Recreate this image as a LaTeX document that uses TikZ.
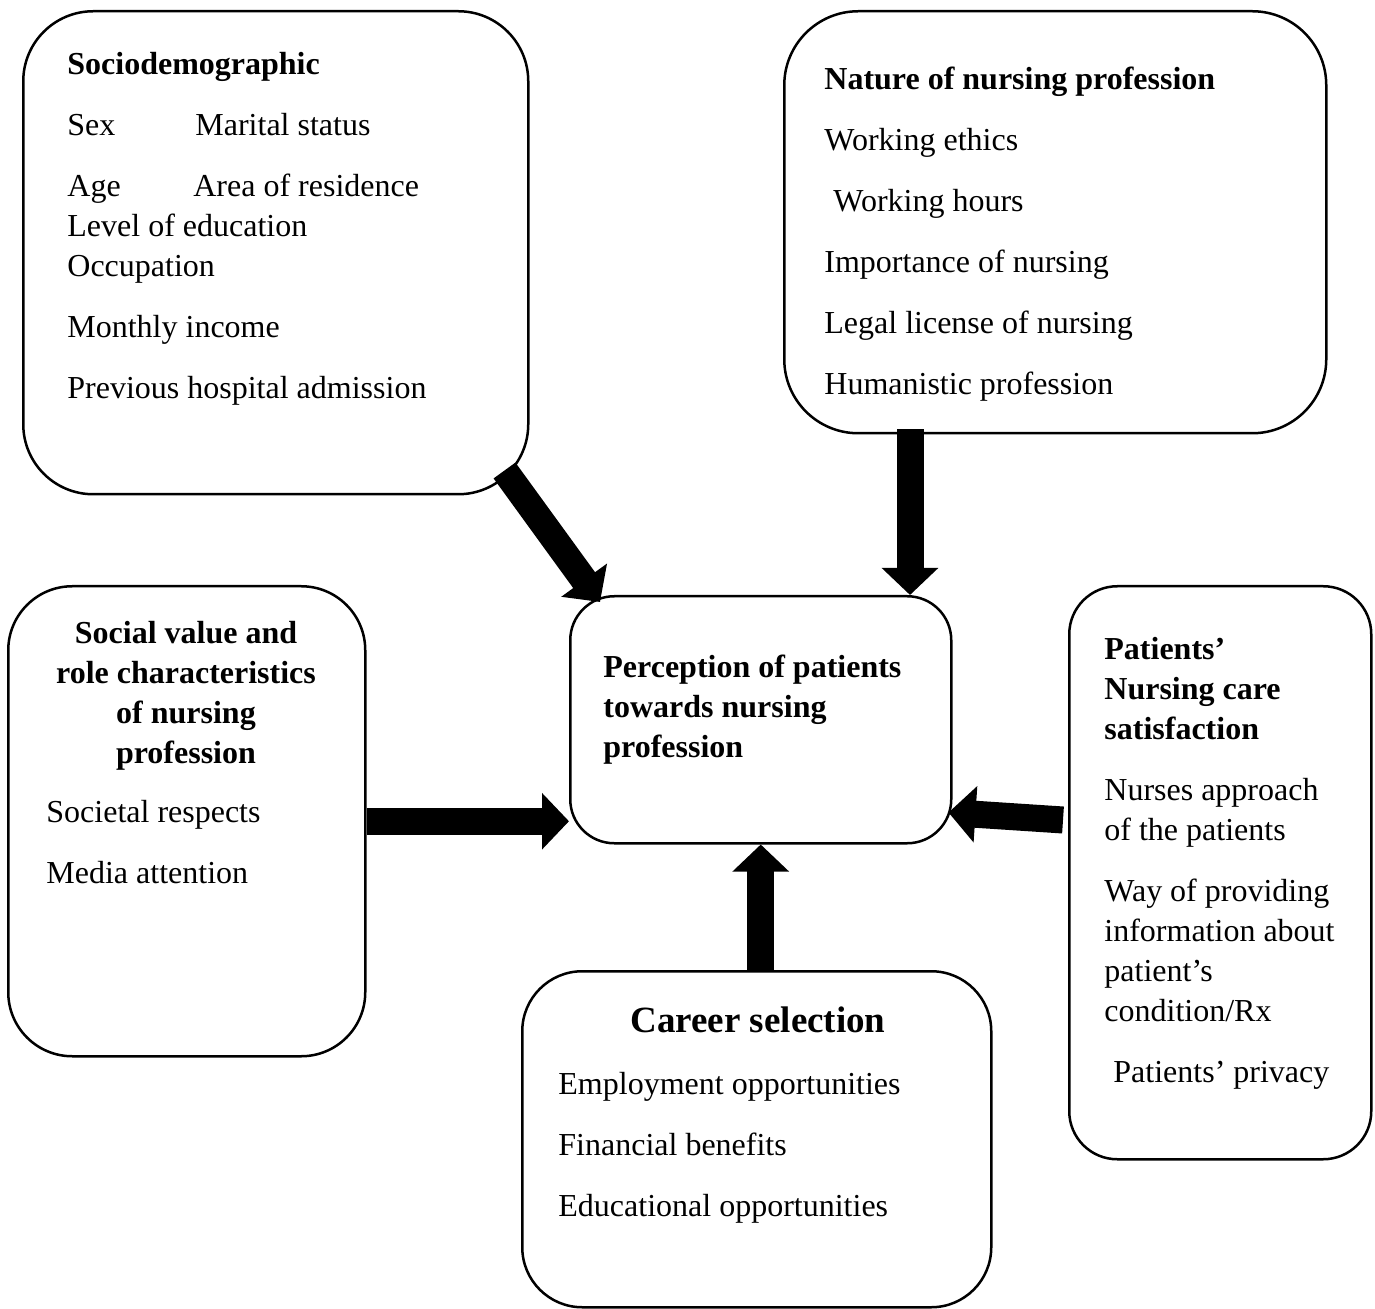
\documentclass[tikz,border=0pt]{standalone}
\usepackage{fontspec}
\setmainfont{Liberation Serif}
\usetikzlibrary{arrows.meta,calc}

\begin{document}
\begin{tikzpicture}[x=0.5pt,y=-0.5pt,
    box/.style={draw,line width=1.25pt,anchor=north west,inner sep=0pt},
    txt/.style={anchor=north west,inner sep=0pt,align=left,
                font=\fontsize{16}{20}\selectfont},
    fat/.style={line width=13.5pt,-{Triangle[length=13.5pt,width=27.5pt]}}]
  \useasboundingbox (0,0) rectangle (1375,1309);
  % boxes
  \node[box,rounded corners=35pt,minimum width=252.5pt,minimum height=241.5pt] (socio) at (22,10) {};
  \node[box,rounded corners=37pt,minimum width=271pt,minimum height=211pt] (nature) at (783,10) {};
  \node[box,rounded corners=32pt,minimum width=178.5pt,minimum height=235pt] (social) at (7,585) {};
  \node[box,rounded corners=22pt,minimum width=190.5pt,minimum height=123.5pt] (ctr) at (569,595) {};
  \node[box,rounded corners=24pt,minimum width=151pt,minimum height=286.5pt] (patients) at (1068,585) {};
  \node[box,rounded corners=30pt,minimum width=234.5pt,minimum height=168pt] (career) at (521,970) {};
  % texts
  \node[txt] (sociotxt) at (67,52) {\textbf{Sociodemographic}\\[10.5pt]
    \makebox[64pt][l]{Sex}Marital status\\[10.5pt]
    \makebox[63pt][l]{Age}Area of residence\\
    Level of education\\
    Occupation\\[10.5pt]
    Monthly income\\[10.5pt]
    Previous hospital admission};
  \node[txt] (naturetxt) at (824,67) {\textbf{Nature of nursing profession}\\[10.5pt]
    Working ethics\\[10.5pt]
    \hspace*{4.5pt}Working hours\\[10.5pt]
    Importance of nursing\\[10.5pt]
    Legal license of nursing\\[10.5pt]
    Humanistic profession};
  \node[txt,anchor=north,align=center] (socialhd) at (186,621) {\textbf{Social value and}\\
    \textbf{role characteristics}\\ \textbf{of nursing}\\ \textbf{profession}};
  \node[txt] (socialtxt) at (46,800) {Societal respects\\[10.5pt]
    Media attention};
  \node[txt] (ctrtxt) at (603,655) {\textbf{Perception of patients}\\
    \textbf{towards nursing}\\ \textbf{profession}};
  \node[txt] (patientstxt) at (1104,637) {\textbf{Patients’}\\
    \textbf{Nursing care}\\ \textbf{satisfaction}\\[10.5pt]
    Nurses approach\\ of the patients\\[10.5pt]
    Way of providing\\ information about\\ patient’s\\ condition/Rx\\[10.5pt]
    \hspace*{4.5pt}Patients’ privacy};
  \node[txt,anchor=center,font=\fontsize{18.5}{22}\selectfont\bfseries] (careerhd) at (758,1020) {Career selection};
  \node[txt] (careertxt) at (558,1072) {Employment opportunities\\[10.5pt]
    Financial benefits\\[10.5pt]
    Educational opportunities};
  % arrows
  \coordinate (s1) at ($(socio.south east)+(-25,-25)$);
  \coordinate (s2) at ($(ctr.north west)+(31,7)$);
  \draw[fat] (s1) -- (s2);
  \coordinate (n1) at ($(nature.south west)+(127,-5)$);
  \draw[fat] (n1) -- (n1 |- ctr.north);
  \draw[fat] (social.east) -- (social.east -| ctr.west);
  \coordinate (p1) at ($(patients.north west)+(-5,235)$);
  \coordinate (p2) at ($(ctr.south east)+(-4,-32)$);
  \draw[fat] (p1) -- (p2);
  \coordinate (c1) at ($(career.north)+(4,0)$);
  \draw[fat] (c1) -- (c1 |- ctr.south);
\end{tikzpicture}
\end{document}
